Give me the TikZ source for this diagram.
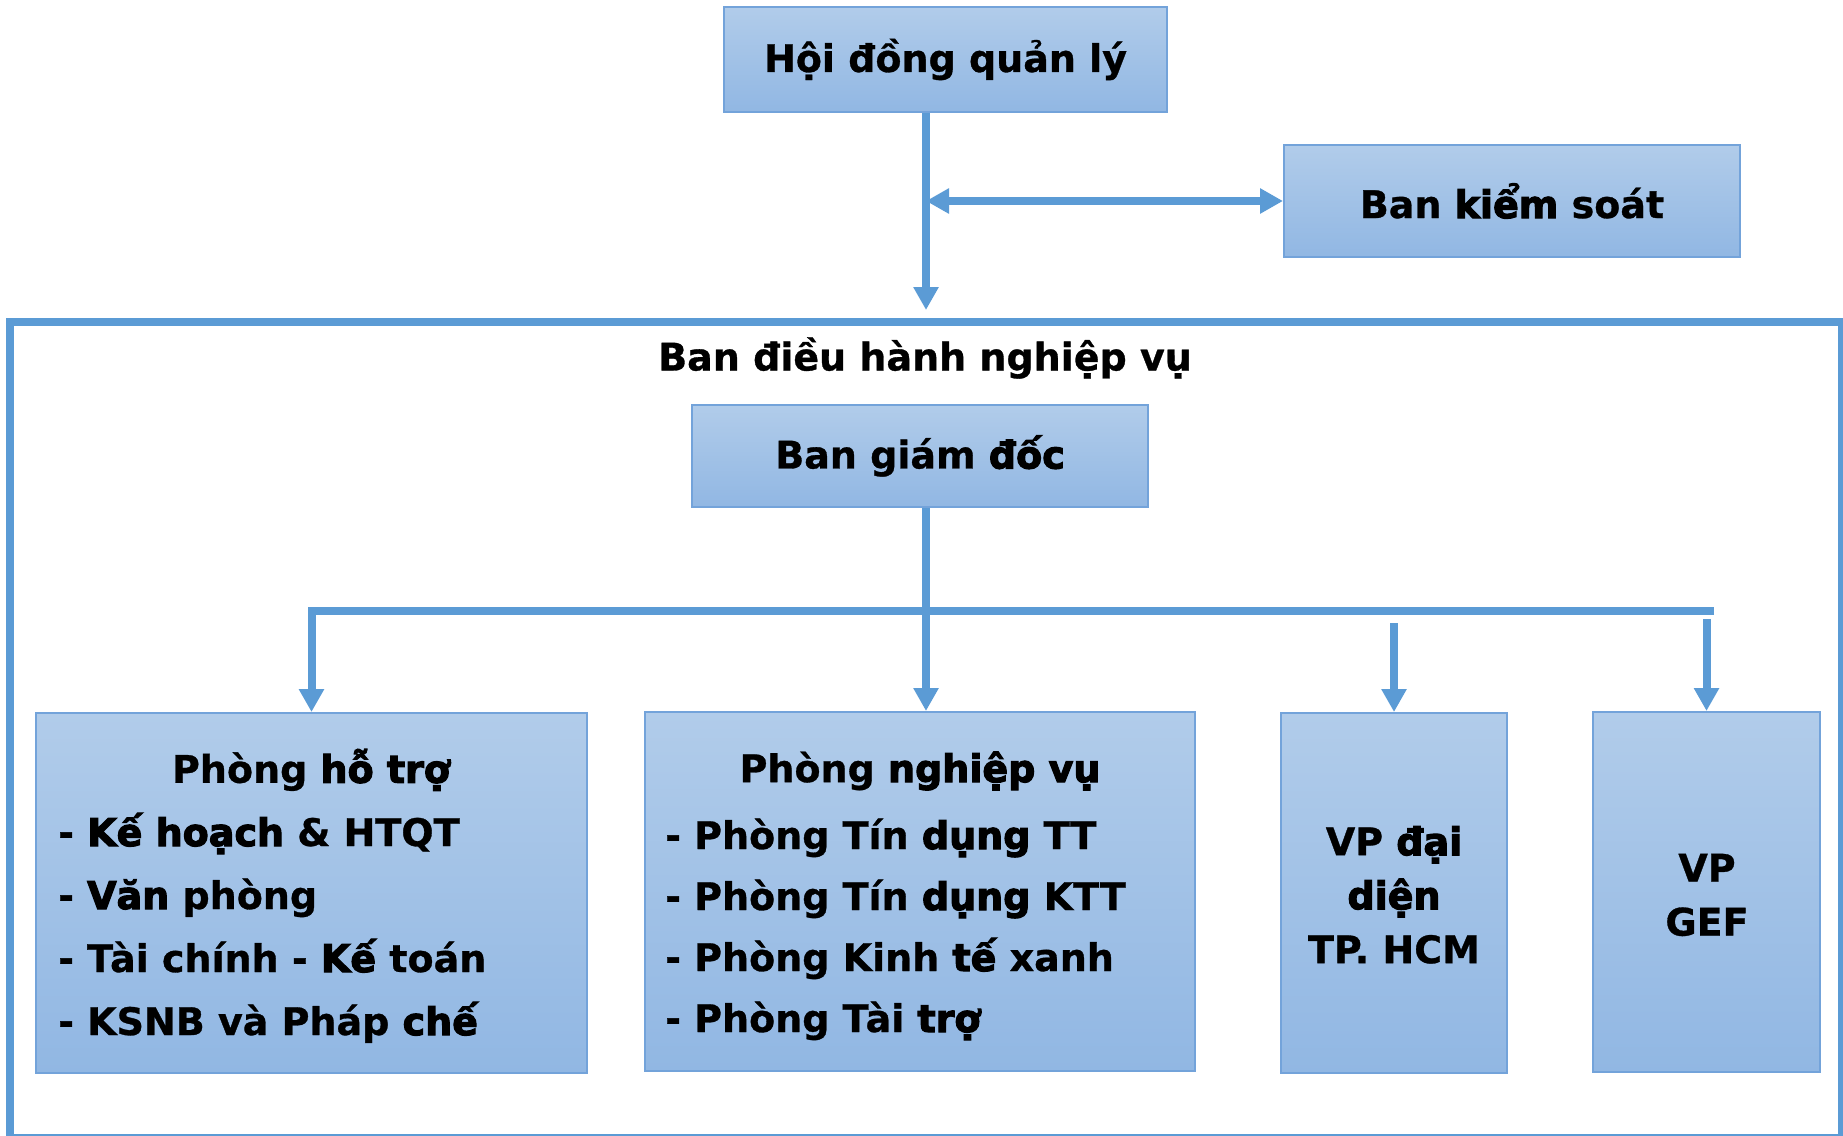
\documentclass[tikz,border=0pt]{standalone}
\usepackage{fontspec}
\setmainfont{DejaVu Sans}
\newfontface\baseface{DejaVu Sans Bold}[FakeBold=0.8]
\newfontface\heavyface{DejaVu Sans Bold}[FakeBold=3]
\usetikzlibrary{arrows.meta, calc, positioning}
\definecolor{orgBlue}{HTML}{5B9BD5}
\definecolor{boxTop}{HTML}{B1CCEA}
\definecolor{boxBot}{HTML}{91B7E3}
\definecolor{boxEdge}{HTML}{73A3DA}
\newcommand{\hv}[1]{{\heavyface #1}}
\tikzset{
  conn/.style     = {orgBlue, line width=8pt},
  tipdown/.style  = {-{Triangle[width=24pt,length=23pt]}},
  tipboth/.style  = {{Triangle[width=24pt,length=23pt]}-{Triangle[width=24pt,length=23pt]}},
  unit/.style     = {draw=boxEdge, line width=2pt, top color=boxTop,
                     bottom color=boxBot, inner sep=0pt, #1},
  txt/.style      = {font=\fontsize{38}{54}\selectfont\baseface, text=black,
                     inner sep=0pt},
  frame/.style    = {orgBlue, line width=8pt},
}

\begin{document}
\begin{tikzpicture}[x=1pt, y=-1pt]
\useasboundingbox (0,0) rectangle (1843,1135);
\clip (0,0) rectangle (1843,1135);

% ---- outer frame (runs off the page at right and bottom) ----------------
\draw[frame] (9.5,322) rectangle (1842,1138);
\node[txt] (title) at (925,358) {Ban điều hành nghiệp vụ};

% ---- top level ------------------------------------------------------------
\node[unit, minimum width=443pt, minimum height=105pt, txt] (hdql)
  at (945.5,59.5) {Hội đồng quản lý};
\node[unit, minimum width=456pt, minimum height=112pt, txt] (bks)
  at (1512,201) {Ban \hv{kiểm} soát};
\node[unit, minimum width=456pt, minimum height=102pt, txt] (bgd)
  at (920,456) {Ban giám \hv{đốc}};

% ---- lower row ------------------------------------------------------------
\node[unit, minimum width=551pt, minimum height=360pt] (hotro)    at (311.5,893) {};
\node[unit, minimum width=550pt, minimum height=359pt] (nghiepvu) at (920,891.5) {};
\node[unit, minimum width=226pt, minimum height=360pt] (vpdd)     at (1394,893) {};
\node[unit, minimum width=227pt, minimum height=360pt] (gef)      at (1706.5,892) {};

\node[txt] (hotroHead) at (311,770) {Phòng \hv{hỗ trợ}};
\foreach \line [count=\i] in {{- \hv{Kế hoạch} \& HTQT}, {- \hv{Văn} phòng},
    {- Tài chính - \hv{Kế} toán}, {- KSNB và Pháp \hv{chế}}}
  \node[txt, anchor=base west] (hotroL\i) at (58,783+\i*63) {\line};

\node[txt] (nghiepvuHead) at (920,771) {Phòng \hv{nghiệp vụ}};
\foreach \line [count=\i] in {{- Phòng Tín \hv{dụng} TT}, {- Phòng Tín \hv{dụng} KTT},
    {- Phòng Kinh \hv{tế} xanh}, {- Phòng Tài \hv{trợ}}}
  \node[txt, anchor=base west] (nghiepvuL\i) at (665,788+\i*61) {\line};

\node[txt, align=center] (vpddTxt) at (1394,895) {VP \hv{đại}\\\hv{diện}\\TP. HCM};
\node[txt, align=center] (gefTxt)  at (1707,895) {VP\\GEF};

% ---- connectors -----------------------------------------------------------
\coordinate (hub)   at (926,201);
\coordinate (drop)  at (926,310);
\coordinate (busL)  at (311.5,611);
\coordinate (busR)  at (1714,611);
\coordinate (vpddTop) at (1394,623);
\coordinate (gefTop)  at (1706.5,619);

\draw[conn, tipdown] (hub |- hdql.south) -- (drop);
\draw[conn, tipboth] (hub) -- (hub -| bks.west);
\draw[conn, tipdown] (hub |- bgd.south) -- (hub |- nghiepvu.north);
\draw[conn, tipdown] (busR) -- (busL) -- (busL |- hotro.north);
\draw[conn, tipdown] (vpddTop) -- (vpddTop |- vpdd.north);
\draw[conn, tipdown] (gefTop) -- (gefTop |- gef.north);

\end{tikzpicture}
\end{document}
